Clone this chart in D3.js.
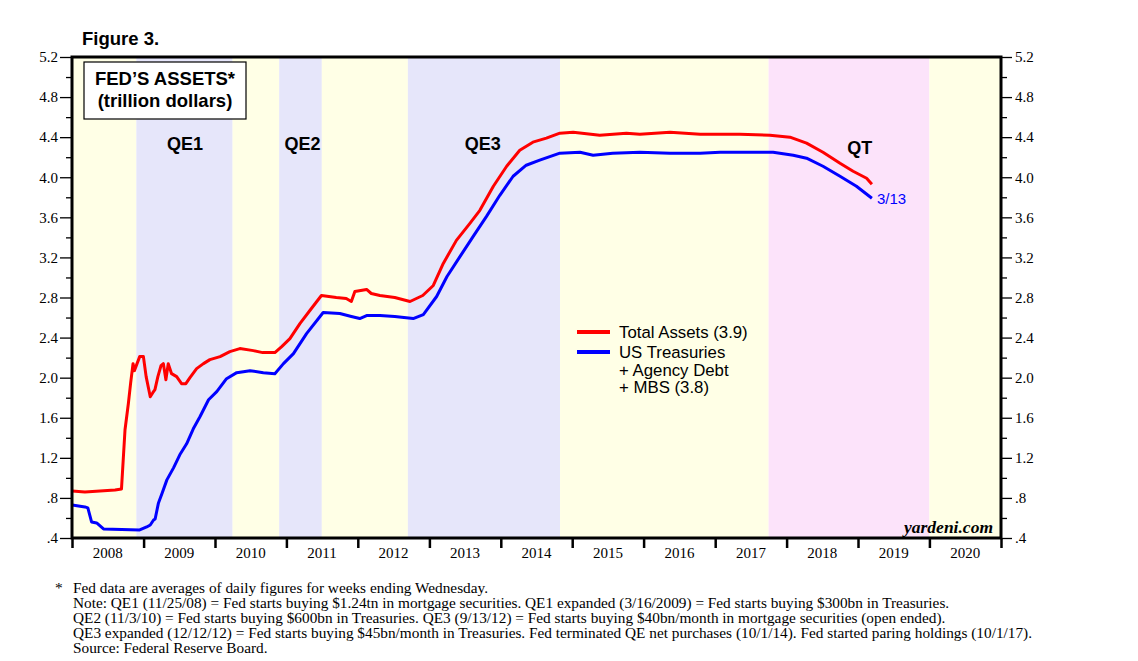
<!DOCTYPE html>
<html><head><meta charset="utf-8">
<script src="https://cdn.jsdelivr.net/npm/d3@7"></script>
<style>body{margin:0;background:#fff}svg{display:block}</style>
</head><body>
<svg id="chart" width="1138" height="661"></svg>
<script>
// ---- DATA ----
const totalDates = ["2008-01-02","2008-03-07","2008-05-23","2008-08-08","2008-09-10","2008-09-28","2008-10-15","2008-10-27","2008-11-08","2008-11-15","2008-12-12","2008-12-31","2009-01-14","2009-02-04","2009-02-17","2009-02-28","2009-03-15","2009-03-31","2009-04-12","2009-04-25","2009-05-07","2009-05-24","2009-06-19","2009-07-14","2009-08-05","2009-08-26","2009-09-29","2009-11-03","2009-12-06","2010-01-27","2010-03-18","2010-05-08","2010-07-16","2010-09-02","2010-11-03","2010-12-08","2011-01-19","2011-03-11","2011-05-01","2011-06-29","2011-09-13","2011-11-03","2011-11-29","2011-12-17","2012-02-15","2012-03-10","2012-04-23","2012-07-08","2012-09-24","2012-11-28","2013-01-21","2013-03-13","2013-05-19","2013-07-27","2013-09-16","2013-11-24","2014-01-31","2014-04-08","2014-06-14","2014-08-22","2014-10-30","2015-01-06","2015-05-22","2015-10-05","2015-12-13","2016-05-15","2016-10-16","2017-05-07","2017-10-08","2018-01-18","2018-04-13","2018-07-06","2018-10-01","2018-12-07","2019-02-14","2019-03-13"];
const totalValues = [0.87,0.86,0.87,0.88,0.89,1.48,1.74,1.95,2.14,2.07,2.21,2.21,2.01,1.81,1.85,1.88,2.01,2.12,2.14,1.98,2.14,2.04,2.01,1.94,1.94,2.00,2.09,2.14,2.18,2.21,2.26,2.29,2.27,2.25,2.25,2.31,2.39,2.54,2.67,2.82,2.80,2.79,2.76,2.86,2.88,2.84,2.82,2.80,2.76,2.82,2.92,3.14,3.37,3.54,3.67,3.91,4.11,4.27,4.35,4.39,4.44,4.45,4.42,4.44,4.43,4.45,4.43,4.43,4.42,4.40,4.34,4.25,4.14,4.06,3.99,3.93];

const secDates = ["2008-01-02","2008-03-07","2008-03-22","2008-04-10","2008-05-06","2008-06-10","2008-12-12","2009-01-17","2009-02-04","2009-02-21","2009-03-01","2009-03-18","2009-04-06","2009-04-30","2009-06-03","2009-07-05","2009-08-09","2009-09-12","2009-10-16","2009-11-29","2010-01-10","2010-03-01","2010-04-22","2010-06-29","2010-09-05","2010-11-03","2010-12-17","2011-02-06","2011-04-14","2011-07-08","2011-10-01","2011-11-29","2012-01-11","2012-02-15","2012-04-23","2012-07-08","2012-10-10","2012-12-01","2013-02-07","2013-04-01","2013-06-07","2013-08-13","2013-10-20","2013-12-27","2014-03-05","2014-05-11","2014-07-19","2014-10-30","2015-02-10","2015-04-18","2015-07-27","2015-12-13","2016-05-15","2016-10-16","2017-01-26","2017-10-24","2018-02-04","2018-04-13","2018-07-06","2018-10-01","2018-12-24","2019-03-13"];
const secValues = [0.73,0.71,0.70,0.56,0.55,0.49,0.48,0.51,0.53,0.58,0.59,0.75,0.85,0.98,1.10,1.23,1.34,1.49,1.61,1.78,1.86,1.99,2.05,2.07,2.05,2.04,2.14,2.24,2.44,2.65,2.64,2.61,2.59,2.62,2.62,2.61,2.59,2.63,2.81,3.01,3.21,3.41,3.61,3.82,4.01,4.12,4.17,4.24,4.25,4.22,4.24,4.25,4.24,4.24,4.25,4.25,4.22,4.19,4.11,4.01,3.91,3.79];

const bandStarts = ["2008-01-01","2008-11-25","2010-04-01","2010-11-25","2011-07-01","2012-09-13","2014-10-31","2017-10-01","2020-01-01"];
const bandEnds   = ["2008-11-25","2010-04-01","2010-11-25","2011-07-01","2012-09-13","2014-10-31","2017-10-01","2020-01-01","2021-01-01"];
const bandKinds  = ["off","qe","off","qe","off","qe","off","qt","off"];

const phaseLabels = ["QE1","QE2","QE3","QT"];
const phaseDates  = ["2009-08-01","2011-03-25","2013-10-01","2019-01-10"];
const phaseLevels = [4.27,4.27,4.27,4.23];

const yTicks = [0.4,0.8,1.2,1.6,2.0,2.4,2.8,3.2,3.6,4.0,4.4,4.8,5.2];
const yMinor = [0.6,1.0,1.4,1.8,2.2,2.6,3.0,3.4,3.8,4.2,4.6,5.0];
const yTickLabels = [".4",".8","1.2","1.6","2.0","2.4","2.8","3.2","3.6","4.0","4.4","4.8","5.2"];
const years = [2008,2009,2010,2011,2012,2013,2014,2015,2016,2017,2018,2019,2020];

const legendLabels = [["Total Assets (3.9)"],["US Treasuries","+ Agency Debt","+ MBS (3.8)"]];
const notes = [
 "Fed data are averages of daily figures for weeks ending Wednesday.",
 "Note: QE1 (11/25/08) = Fed starts buying $1.24tn in mortgage securities. QE1 expanded (3/16/2009) = Fed starts buying $300bn in Treasuries.",
 "QE2 (11/3/10) = Fed starts buying $600bn in Treasuries. QE3 (9/13/12) = Fed starts buying $40bn/month in mortgage securities (open ended).",
 "QE3 expanded (12/12/12) = Fed starts buying $45bn/month in Treasuries. Fed terminated QE net purchases (10/1/14). Fed started paring holdings (10/1/17).",
 "Source: Federal Reserve Board."
];

// ---- DRAW ----
const parse = d3.timeParse("%Y-%m-%d");
const svg = d3.select("#chart");
const L = 72, R = 1001, T = 57, B = 538;
const x = d3.scaleTime().domain([new Date(2008,0,1), new Date(2021,0,1)]).range([L, R]);
const y = d3.scaleLinear().domain([0.4, 5.2]).range([B, T]);
const bandColor = {off:"#FFFFE6", qe:"#E6E6FA", qt:"#FCE3FA"};
const sans = "'Liberation Sans', Arial, sans-serif";
const serif = "'Liberation Serif', 'Times New Roman', serif";

// bands
svg.append("g").selectAll("rect").data(bandKinds).join("rect")
  .attr("x", (d,i) => x(parse(bandStarts[i])))
  .attr("width", (d,i) => x(parse(bandEnds[i])) - x(parse(bandStarts[i])))
  .attr("y", T).attr("height", B - T)
  .attr("fill", d => bandColor[d]);

// axes left/right
const leftAxis = d3.axisLeft(y).tickValues(yTicks).tickSize(12).tickPadding(2)
  .tickFormat((d,i) => yTickLabels[i]);
const gl = svg.append("g").attr("transform", `translate(${L},0)`).call(leftAxis);
const rightAxis = d3.axisRight(y).tickValues(yTicks).tickSize(11).tickPadding(3)
  .tickFormat((d,i) => yTickLabels[i]);
const gr = svg.append("g").attr("transform", `translate(${R},0)`).call(rightAxis);
svg.append("g").attr("transform", `translate(${L},0)`).call(d3.axisLeft(y).tickValues(yMinor).tickSize(6).tickFormat(""));
svg.append("g").attr("transform", `translate(${R},0)`).call(d3.axisRight(y).tickValues(yMinor).tickSize(6).tickFormat(""));
svg.selectAll(".domain").remove();
[gl, gr].forEach(g => g.selectAll("text").attr("font-family", serif).attr("font-size", 15).attr("fill","#000"));
svg.selectAll(".tick line").attr("stroke","#000").attr("stroke-width",1.3);

// bottom axis
const xb = d3.axisBottom(x).tickValues(years.concat([2021]).map(v => new Date(v,0,1))).tickSize(10).tickFormat("");
svg.append("g").attr("transform", `translate(0,${B})`).call(xb)
  .call(g => g.select(".domain").remove())
  .call(g => g.selectAll("line").attr("stroke","#000").attr("stroke-width",2.5));
svg.append("g").selectAll("text").data(years).join("text")
  .attr("x", d => (x(new Date(d,0,1)) + x(new Date(d+1,0,1)))/2)
  .attr("y", B + 20).attr("text-anchor","middle")
  .attr("font-family", serif).attr("font-size", 15).text(d => d);

// lines
const line = d3.line().x(d => x(d[0])).y(d => y(d[1]));
const totalSeries = totalDates.map((d,i) => [parse(d), totalValues[i]]);
const secSeries = secDates.map((d,i) => [parse(d), secValues[i]]);
svg.append("path").datum(totalSeries).attr("d", line).attr("fill","none")
  .attr("stroke","#FF0000").attr("stroke-width",3).attr("stroke-linejoin","round");
svg.append("path").datum(secSeries).attr("d", line).attr("fill","none")
  .attr("stroke","#0000FF").attr("stroke-width",3).attr("stroke-linejoin","round");

// border
svg.append("rect").attr("x", L).attr("y", T).attr("width", R - L).attr("height", B - T)
  .attr("fill","none").attr("stroke","#000").attr("stroke-width",3);

// phase labels
svg.append("g").selectAll("text").data(phaseLabels).join("text")
  .attr("x", (d,i) => x(parse(phaseDates[i])))
  .attr("y", (d,i) => y(phaseLevels[i]))
  .attr("text-anchor","middle").attr("font-family", sans).attr("font-weight","bold")
  .attr("font-size", 18).text(d => d);

// end label
svg.append("text").attr("x", x(parse(secDates[secDates.length-1])) + 5)
  .attr("y", y(secValues[secValues.length-1]) + 6)
  .attr("font-family", sans).attr("font-size", 15).attr("fill","#0000FF").text("3/13");

// title box
svg.append("rect").attr("x",84).attr("y",62).attr("width",162).attr("height",57)
  .attr("fill","#fff").attr("stroke","#000").attr("stroke-width",1.2);
svg.append("text").attr("x",165).attr("y",85).attr("text-anchor","middle")
  .attr("font-family",sans).attr("font-weight","bold").attr("font-size",18.5).text("FED\u2019S ASSETS*");
svg.append("text").attr("x",165).attr("y",107).attr("text-anchor","middle")
  .attr("font-family",sans).attr("font-weight","bold").attr("font-size",18.5).text("(trillion dollars)");

svg.append("text").attr("x",82).attr("y",45).attr("font-family",sans).attr("font-weight","bold")
  .attr("font-size",18.5).text("Figure 3.");

// legend
const legColors = ["#FF0000","#0000FF"];
const legY = [332, 352];
legendLabels.forEach((lines, i) => {
  svg.append("line").attr("x1",577).attr("x2",610).attr("y1",legY[i]).attr("y2",legY[i])
    .attr("stroke",legColors[i]).attr("stroke-width",4);
  lines.forEach((t, j) => {
    svg.append("text").attr("x",619).attr("y",legY[i] + 6 + j*17.6)
      .attr("font-family",sans).attr("font-size",16.8).attr("fill","#000").text(t);
  });
});

// watermark
svg.append("text").attr("x",993).attr("y",533).attr("text-anchor","end")
  .attr("font-family",serif).attr("font-style","italic").attr("font-weight","bold")
  .attr("font-size",17.5).text("yardeni.com");

// notes
svg.append("text").attr("x",55).attr("y",593).attr("font-family",serif).attr("font-size",15.3).text("*");
svg.append("g").selectAll("text").data(notes).join("text")
  .attr("x",73).attr("y",(d,i) => 593 + i*15)
  .attr("font-family",serif).attr("font-size",15.3).text(d => d);
</script>
</body></html>
